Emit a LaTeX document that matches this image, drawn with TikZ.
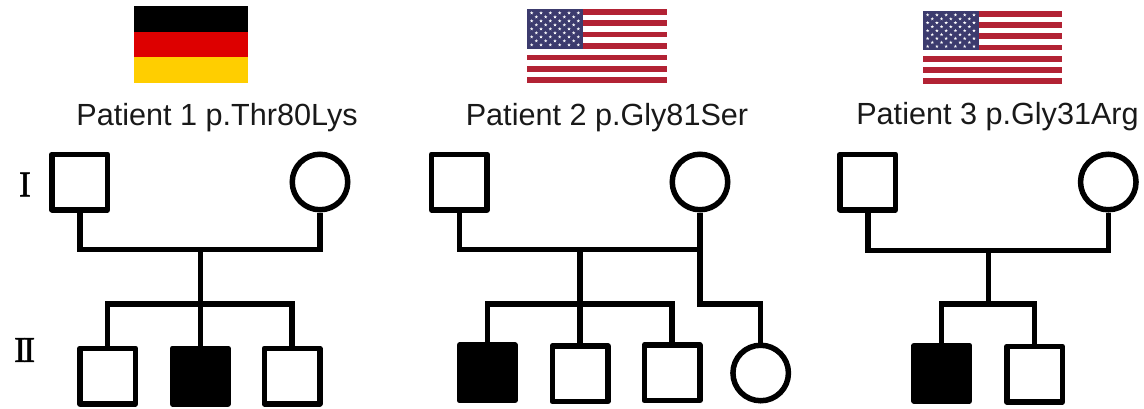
\documentclass[tikz,border=0pt]{standalone}
\usepackage{fontspec}
\setmainfont{Liberation Sans}
\newfontfamily\numeralfont[FakeBold=1.2]{Liberation Serif}
\definecolor{usred}{HTML}{B22234}
\definecolor{usblue}{HTML}{3C3B6E}
\definecolor{derot}{HTML}{DD0000}
\definecolor{degold}{HTML}{FFCE00}
\tikzset{
  male/.style={draw=black,fill=white,line width=5.5pt,minimum size=55.5pt,inner sep=0pt,shape=rectangle,line join=round},
  affected/.style={male,fill=black},
  female/.style={draw=black,fill=white,line width=5.5pt,minimum size=55.5pt,inner sep=0pt,shape=circle},
  link/.style={draw=black,line width=5.5pt,line join=miter},
  patientlabel/.style={anchor=base,inner sep=0pt,text=black!90,font=\fontsize{30.6}{36}\selectfont},
  generation/.style={inner sep=0pt,font=\numeralfont\fontsize{36}{38}\selectfont},
  pics/usflag/.style n args={2}{code={
    \begin{scope}[xscale=#1/140,yscale=#2/74]
      \foreach \s in {0,...,6} {\fill[usred] (0,{\s*74/13*2}) rectangle (140,{\s*74/13*2+74/13});}
      \fill[usblue] (0,0) rectangle (56,39.85);
      \foreach \r in {1,3,5,7,9} \foreach \c in {1,3,5,7,9,11} {
        \fill[white] ({\c*56/12},{\r*39.85/10}) +(-90:1.8) -- +(54:1.8) -- +(198:1.8) -- +(-18:1.8) -- +(126:1.8) -- cycle;}
      \foreach \r in {2,4,6,8} \foreach \c in {2,4,6,8,10} {
        \fill[white] ({\c*56/12},{\r*39.85/10}) +(-90:1.8) -- +(54:1.8) -- +(198:1.8) -- +(-18:1.8) -- +(126:1.8) -- cycle;}
    \end{scope}}}
}
\begin{document}
\begin{tikzpicture}[x=1pt,y=-1pt]
\useasboundingbox (0,0) rectangle (1144,408);
% flags
\fill[black] (134,6) rectangle (248,31.7);
\fill[derot] (134,31.7) rectangle (248,57.4);
\fill[degold] (134,57.4) rectangle (248,83);
\pic at (527,9) {usflag={140}{74}};
\pic at (923,11) {usflag={139}{73}};
% labels
\node[patientlabel] (t1) at (217,125) {Patient 1 p.Thr80Lys};
\node[patientlabel] (t2) at (607,125) {Patient 2 p.Gly81Ser};
\node[patientlabel] (t3) at (997.5,124) {Patient 3 p.Gly31Arg};
\node[generation] (g1) at (25,184.5) {I};
\node[generation] (g2) at (24.7,350) {I\kern-.08em I};
% patient 1
\node[male] (a1) at (79.8,182) {};
\node[female] (a2) at (320,182) {};
\node[male] (a3) at (107.7,376) {};
\node[affected] (a4) at (200.3,376) {};
\node[male] (a5) at (292,376) {};
\coordinate (au) at (200.3,249.3);
\coordinate (as) at (200.3,304);
\draw[link] (a1.south) |- (au) -| (a2.south);
\draw[link] (au) -- (a4.north);
\draw[link] (a3.north) |- (as) -| (a5.north);
% patient 2
\node[male] (b1) at (459.3,182) {};
\node[female] (b2) at (700,182) {};
\node[affected] (b3) at (487.3,372.7) {};
\node[male] (b4) at (580,373.7) {};
\node[male] (b5) at (672,372.8) {};
\node[female] (b6) at (760.7,373) {};
\coordinate (bu) at (580,249.3);
\coordinate (bs) at (580,304);
\coordinate (bt) at (700,304);
\draw[link] (b1.south) |- (bu) -| (b2.south);
\draw[link] (bu) -- (b4.north);
\draw[link] (b3.north) |- (bs) -| (b5.north);
\draw[link] (b2.south) -- (bt) -| (b6.north);
% patient 3
\node[male] (c1) at (867.8,182) {};
\node[female] (c2) at (1108.3,182) {};
\node[affected] (c3) at (941.7,373.3) {};
\node[male] (c4) at (1034.5,374) {};
\coordinate (cu) at (988.3,250.5);
\coordinate (cs) at (988.3,304);
\draw[link] (c1.south) |- (cu) -| (c2.south);
\draw[link] (cu) -- (cs);
\draw[link] (c3.north) |- (cs) -| (c4.north);
\end{tikzpicture}
\end{document}
